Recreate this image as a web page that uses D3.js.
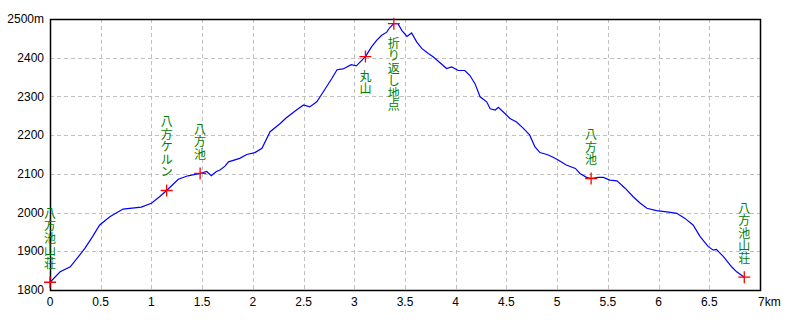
<!DOCTYPE html>
<html>
<head>
<meta charset="utf-8">
<script src="https://cdn.jsdelivr.net/npm/d3@7"></script>
<style>
  body { margin: 0; background: #fff; }
  svg { display: block; }
  text { font-family: "Liberation Sans", Arial, sans-serif; font-size: 12px; }
</style>
</head>
<body>
<svg id="profile"></svg>
<script>
// distance (km) and elevation (m) along the route
const distKm = [0, 0.10, 0.20, 0.28, 0.345, 0.41, 0.49, 0.59, 0.72, 0.90, 1.00, 1.08, 1.15, 1.265, 1.36, 1.48,
  1.545, 1.59, 1.64, 1.676, 1.725, 1.76, 1.87, 1.94, 2.02, 2.09, 2.17, 2.27, 2.33, 2.43, 2.50, 2.56, 2.63,
  2.695, 2.78, 2.83, 2.89, 2.97, 3.02, 3.11, 3.17, 3.22, 3.27, 3.32, 3.35, 3.39, 3.43, 3.47, 3.52, 3.565,
  3.615, 3.665, 3.73, 3.78, 3.845, 3.91, 3.96, 4.025, 4.09, 4.14, 4.19, 4.24, 4.305, 4.34, 4.39, 4.42,
  4.485, 4.535, 4.60, 4.67, 4.73, 4.78, 4.83, 4.90, 4.95, 5.01, 5.09, 5.18, 5.225, 5.29, 5.335, 5.405,
  5.455, 5.52, 5.59, 5.67, 5.75, 5.82, 5.885, 5.98, 6.10, 6.18, 6.26, 6.34, 6.41, 6.49, 6.54, 6.57,
  6.64, 6.72, 6.77, 6.845];
const elevM = [1820, 1847, 1860, 1886, 1908, 1934, 1968, 1989, 2009, 2014, 2024, 2041, 2057, 2086, 2095, 2101,
  2106, 2095, 2106, 2110, 2120, 2131, 2140, 2150, 2155, 2166, 2209, 2230, 2245, 2265, 2278, 2273, 2286,
  2312, 2347, 2369, 2371, 2382, 2379, 2403, 2428, 2445, 2458, 2466, 2478, 2488, 2488, 2470, 2455, 2464,
  2441, 2424, 2411, 2402, 2387, 2372, 2376, 2367, 2367, 2354, 2333, 2299, 2286, 2268, 2265, 2272,
  2256, 2243, 2234, 2217, 2200, 2170, 2155, 2150, 2144, 2136, 2123, 2114, 2101, 2091, 2088, 2091,
  2091, 2084, 2082, 2063, 2041, 2024, 2011, 2005, 2001, 1998, 1985, 1968, 1938, 1912, 1903, 1905,
  1886, 1860, 1847, 1833];

// waypoints
const wpKm = [0, 1.15, 1.48, 3.11, 3.39, 5.335, 6.845];
const wpElev = [1820, 2057, 2101, 2403, 2488, 2088, 1833];
const wpName = ["八方池山荘", "八方ケルン", "八方池", "丸山", "折り返し地点", "八方池", "八方池山荘"];
const wpBelow = [false, false, false, true, true, false, false];

const xTicks = [0, 0.5, 1, 1.5, 2, 2.5, 3, 3.5, 4, 4.5, 5, 5.5, 6, 6.5, 7];
const yTicks = [1800, 1900, 2000, 2100, 2200, 2300, 2400, 2500];

const W = 800, H = 320;
const margin = { top: 19, right: 40, bottom: 30, left: 50 };
const width = W - margin.left - margin.right;
const height = H - margin.top - margin.bottom;

const svg = d3.select("#profile").attr("width", W).attr("height", H);
const g = svg.append("g").attr("transform", `translate(${margin.left}, ${margin.top})`);

const x = d3.scaleLinear().domain([0, 7]).range([0, width]);
const y = d3.scaleLinear().domain([1800, 2500]).range([height, 0]);

// dashed grid
g.selectAll(".vgrid").data(xTicks.slice(1, -1)).enter().append("line")
  .attr("x1", d => Math.round(x(d)) + 0.5).attr("x2", d => Math.round(x(d)) + 0.5)
  .attr("y1", 0).attr("y2", height)
  .attr("stroke", "#c0c0c0").attr("stroke-dasharray", "4,3");
g.selectAll(".hgrid").data(yTicks.slice(1, -1)).enter().append("line")
  .attr("y1", d => Math.round(y(d)) + 0.5).attr("y2", d => Math.round(y(d)) + 0.5)
  .attr("x1", 0).attr("x2", width)
  .attr("stroke", "#c0c0c0").attr("stroke-dasharray", "4,3");

// frame
g.append("rect").attr("x", 0.5).attr("y", 0.5).attr("width", width).attr("height", height)
  .attr("fill", "none").attr("stroke", "#000").attr("stroke-width", 1.5);

// tick labels
g.selectAll(".xl").data(xTicks).enter().append("text")
  .attr("x", d => d === 7 ? x(d) - 2 : x(d))
  .attr("y", height + 16)
  .attr("text-anchor", d => d === 7 ? "start" : "middle")
  .text(d => d === 7 ? "7km" : d);
g.selectAll(".yl").data(yTicks).enter().append("text")
  .attr("x", -6)
  .attr("y", d => y(d))
  .attr("dy", "0.35em")
  .attr("text-anchor", "end")
  .text(d => d === 2500 ? "2500m" : d);

// profile line
const pts = distKm.map((d, i) => [d, elevM[i]]);
const line = d3.line().x(d => x(d[0])).y(d => y(d[1]));
g.append("path").datum(pts)
  .attr("fill", "none").attr("stroke", "#0000ff").attr("stroke-width", 1.2)
  .attr("d", line);

// waypoint crosses + vertical labels (one char per text, stacked)
const cs = 6;
wpKm.forEach((k, i) => {
  const cx = x(k), cy = y(wpElev[i]);
  g.append("path")
    .attr("d", `M${cx - cs},${cy}H${cx + cs}M${cx},${cy - cs}V${cy + cs}`)
    .attr("stroke", "#ff0000").attr("stroke-width", 1.3);
  const chars = Array.from(wpName[i]);
  const step = 12.5;
  const y0 = wpBelow[i] ? cy + 13 : cy - 13 - chars.length * step;
  g.append("g").selectAll("text").data(chars).enter().append("text")
    .attr("x", cx)
    .attr("y", (c, j) => y0 + j * step + 11)
    .attr("text-anchor", "middle")
    .attr("fill", "#008000")
    .style("font-family", "'Noto Sans CJK JP', sans-serif")
    .style("font-size", "12px")
    .text(c => c);
});
</script>
</body>
</html>
